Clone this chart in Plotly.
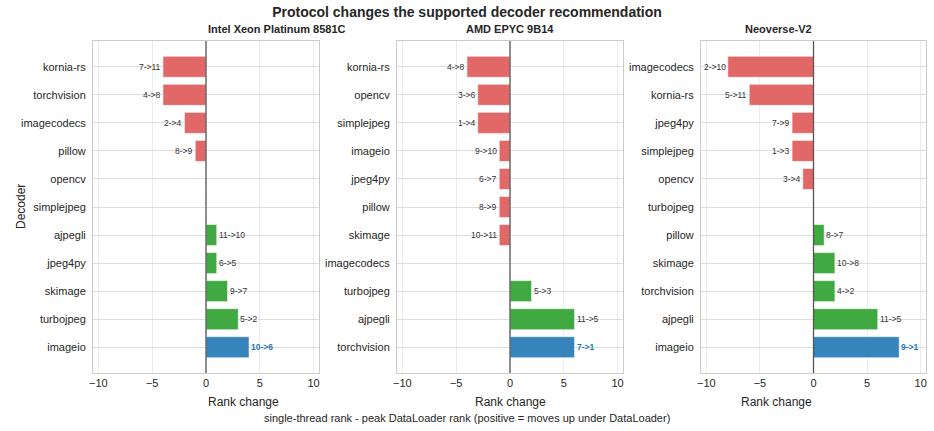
import plotly.graph_objects as go

# ---------------- data ----------------
panel_titles = ["Intel Xeon Platinum 8581C", "AMD EPYC 9B14", "Neoverse-V2"]

intel_decoders = ["kornia-rs", "torchvision", "imagecodecs", "pillow", "opencv", "simplejpeg",
                  "ajpegli", "jpeg4py", "skimage", "turbojpeg", "imageio"]
intel_change = [-4, -4, -2, -1, 0, 0, 1, 1, 2, 3, 4]
intel_labels = ["7->11", "4->8", "2->4", "8->9", "", "", "11->10", "6->5", "9->7", "5->2", "10->6"]

amd_decoders = ["kornia-rs", "opencv", "simplejpeg", "imageio", "jpeg4py", "pillow", "skimage",
                "imagecodecs", "turbojpeg", "ajpegli", "torchvision"]
amd_change = [-4, -3, -3, -1, -1, -1, -1, 0, 2, 6, 6]
amd_labels = ["4->8", "3->6", "1->4", "9->10", "6->7", "8->9", "10->11", "", "5->3", "11->5", "7->1"]

neo_decoders = ["imagecodecs", "kornia-rs", "jpeg4py", "simplejpeg", "opencv", "turbojpeg",
                "pillow", "skimage", "torchvision", "ajpegli", "imageio"]
neo_change = [-8, -6, -2, -2, -1, 0, 1, 2, 2, 6, 8]
neo_labels = ["2->10", "5->11", "7->9", "1->3", "3->4", "", "8->7", "10->8", "4->2", "11->5", "9->1"]

# recommended decoder under DataLoader (highlighted)
highlight = ["imageio", "torchvision", "imageio"]

panels = [
    (intel_decoders, intel_change, intel_labels),
    (amd_decoders, amd_change, amd_labels),
    (neo_decoders, neo_change, neo_labels),
]

# ---------------- style ----------------
RED = "#E26868"
GREEN = "#41A941"
BLUE = "#3585BC"
FONT = "Liberation Sans, Arial, sans-serif"
TXT = "#262626"

W, H = 934, 431
ml, mr, mt, mb = 93, 8, 41, 58
pw = W - ml - mr
ph = H - mt - mb
px_domains = [(93, 319), (397, 623), (701, 926)]
domains = [((a - ml) / pw, (b - ml) / pw) for a, b in px_domains]

fig = go.Figure()
annotations = []
shapes = []

for i, ((decs, chg, labs), title, hl) in enumerate(zip(panels, panel_titles, highlight)):
    n = i + 1
    xa = "x" if n == 1 else f"x{n}"
    ya = "y" if n == 1 else f"y{n}"
    colors = []
    for d, c in zip(decs, chg):
        if d == hl:
            colors.append(BLUE)
        elif c < 0:
            colors.append(RED)
        else:
            colors.append(GREEN)
    fig.add_trace(go.Bar(
        x=chg, y=decs, orientation="h", width=0.75,
        marker=dict(color=colors, line=dict(color="rgba(255,255,255,0.7)", width=0.8)),
        xaxis=xa, yaxis=ya, showlegend=False, hoverinfo="x+y",
    ))
    for d, c, lab in zip(decs, chg, labs):
        if not lab:
            continue
        is_hl = d == hl
        annotations.append(dict(
            x=c, y=d, xref=xa, yref=ya, text=f"<b>{lab}</b>" if is_hl else lab,
            showarrow=False, xanchor="left" if c > 0 else "right",
            xshift=1 if c > 0 else -1, borderpad=0,
            font=dict(size=8.5, color="#1f77b4" if is_hl else "#333333", family=FONT),
        ))
    # zero line on top
    shapes.append(dict(type="line", xref=xa, yref=f"{ya} domain", x0=0, x1=0, y0=0, y1=1,
                       line=dict(color="#555555", width=1.3), layer="above"))
    # subplot title
    annotations.append(dict(
        x=(domains[i][0] + domains[i][1]) / 2, y=1, xref="paper", yref="paper",
        yanchor="bottom", yshift=4, showarrow=False, text=f"<b>{title}</b>",
        font=dict(size=11, color=TXT, family=FONT),
    ))
    # x-axis title
    annotations.append(dict(
        x=(domains[i][0] + domains[i][1]) / 2, y=-29 / ph, xref="paper", yref="paper",
        yanchor="middle", showarrow=False, text="Rank change",
        font=dict(size=12, color=TXT, family=FONT),
    ))
    axis_common = dict(showline=True, mirror=True, linecolor="#cccccc", linewidth=1,
                       ticks="", tickfont=dict(size=11, color=TXT, family=FONT))
    fig.update_layout(**{
        ("xaxis" if n == 1 else f"xaxis{n}"): dict(
            domain=list(domains[i]), anchor=ya, range=[-10.5, 10.5],
            tickvals=[-10, -5, 0, 5, 10], ticktext=["\u221210", "\u22125", "0", "5", "10"],
            showgrid=True, gridcolor="#ececec", gridwidth=1, zeroline=False, **axis_common),
        ("yaxis" if n == 1 else f"yaxis{n}"): dict(
            domain=[0, 1], anchor=xa, type="category", categoryorder="array",
            categoryarray=decs, range=[10.92, -0.92],
            showgrid=True, gridcolor="#dddddd", gridwidth=1.2, zeroline=False,
            ticklabelstandoff=4, **axis_common),
    })

annotations.append(dict(
    x=(12 - ml) / pw, y=0.5, xref="paper", yref="paper", textangle=-90,
    showarrow=False, text="Decoder", font=dict(size=12, color=TXT, family=FONT),
))
annotations.append(dict(
    x=(467 - ml) / pw, y=-(418 - (H - mb)) / ph, xref="paper", yref="paper",
    yanchor="middle", showarrow=False,
    text="single-thread rank - peak DataLoader rank (positive = moves up under DataLoader)",
    font=dict(size=11, color=TXT, family=FONT),
))

fig.update_layout(
    width=W, height=H,
    margin=dict(l=ml, r=mr, t=mt, b=mb),
    paper_bgcolor="white", plot_bgcolor="white",
    title=dict(text="<b>Protocol changes the supported decoder recommendation</b>",
               x=0.5, xanchor="center", y=1 - 12 / H, yanchor="middle",
               font=dict(size=14, color=TXT, family=FONT)),
    annotations=annotations, shapes=shapes,
    bargap=0.25,
)

fig.write_html("out.html")
